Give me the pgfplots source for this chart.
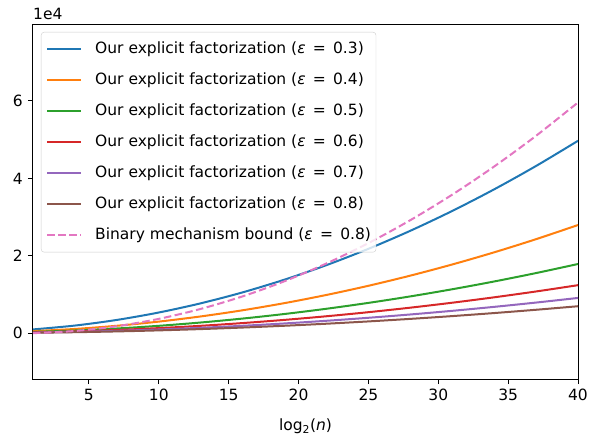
\documentclass[border=0pt]{standalone}
\usepackage{fontspec}
\setmainfont{DejaVu Sans}
\usepackage{pgfplots}
\pgfplotsset{compat=1.18}

\definecolor{c0}{HTML}{1F77B4}
\definecolor{c1}{HTML}{FF7F0E}
\definecolor{c2}{HTML}{2CA02C}
\definecolor{c3}{HTML}{D62728}
\definecolor{c4}{HTML}{9467BD}
\definecolor{c5}{HTML}{8C564B}
\definecolor{c6}{HTML}{E377C2}

\newcommand{\eps}[1]{(\textit{ε}\hspace{0.15em} = \hspace{0.15em}#1)}

\begin{document}
\fontsize{15.5}{18}\selectfont
\begin{tikzpicture}
\begin{axis}[
    scale only axis,
    width=545pt, height=354pt,
    xmin=1, xmax=40,
    ymin=-11800, ymax=79600,
    xtick={5,10,...,40},
    ytick={0,20000,40000,60000},
    yticklabels={0,2,4,6},
    scaled y ticks=false,
    xtick pos=bottom, ytick pos=left,
    tick align=outside,
    major tick length=5pt,
    tick style={black, line width=1pt},
    axis line style={line width=1pt},
    /pgf/number format/assume math mode=true,
    tick label style={font=\fontsize{15.5}{18}\selectfont},
    xlabel={log\textsubscript{2}(\textit{n})},
    xlabel style={at={(axis description cs:0.5,0)}, anchor=base, yshift=-51pt},
    legend cell align=left,
    legend image code/.code={
        \draw[#1] (0pt,0pt) -- (34pt,0pt);
        \path (47pt,0pt);
    },
    legend style={
        at={(axis description cs:0,1)}, anchor=north west,
        xshift=8pt, yshift=-7pt,
        draw=black!20, fill=white, fill opacity=0.8, text opacity=1,
        rounded corners=3pt,
        inner xsep=5pt, inner ysep=9pt,
        row sep=15pt,
        nodes={inner sep=0pt, text height=12pt, text depth=4pt},
        font=\fontsize{15.5}{18}\selectfont,
    },
]
% epsilon = 0.3
\addplot[c0, line width=2pt, smooth] coordinates {
    (1,1000) (4,1998) (7,3453) (10,5366) (13,7738) (16,10567) (19,13856)
    (22,17600) (25,21806) (28,26467) (31,31589) (34,37167) (37,43204) (40,49699)
};
\addlegendentry{Our explicit factorization \eps{0.3}}
% epsilon = 0.4
\addplot[c1, line width=2pt, smooth] coordinates {
    (1,563) (4,1124) (7,1943) (10,3018) (13,4353) (16,5944) (19,7794)
    (22,9900) (25,12266) (28,14888) (31,17769) (34,20906) (37,24303) (40,27956)
};
\addlegendentry{Our explicit factorization \eps{0.4}}
% epsilon = 0.5
\addplot[c2, line width=2pt, smooth] coordinates {
    (1,360) (4,719) (7,1243) (10,1932) (13,2786) (16,3804) (19,4988)
    (22,6336) (25,7850) (28,9528) (31,11372) (34,13380) (37,15554) (40,17892)
};
\addlegendentry{Our explicit factorization \eps{0.5}}
% epsilon = 0.6
\addplot[c3, line width=2pt, smooth] coordinates {
    (1,250) (4,499) (7,863) (10,1341) (13,1934) (16,2642) (19,3464)
    (22,4400) (25,5451) (28,6617) (31,7897) (34,9292) (37,10801) (40,12425)
};
\addlegendentry{Our explicit factorization \eps{0.6}}
% epsilon = 0.7
\addplot[c4, line width=2pt, smooth] coordinates {
    (1,184) (4,367) (7,634) (10,986) (13,1421) (16,1941) (19,2545)
    (22,3233) (25,4005) (28,4861) (31,5802) (34,6827) (37,7936) (40,9128)
};
\addlegendentry{Our explicit factorization \eps{0.7}}
% epsilon = 0.8
\addplot[c5, line width=2pt, smooth] coordinates {
    (1,141) (4,281) (7,486) (10,755) (13,1088) (16,1486) (19,1948)
    (22,2475) (25,3066) (28,3722) (31,4442) (34,5227) (37,6076) (40,6989)
};
\addlegendentry{Our explicit factorization \eps{0.8}}
% binary mechanism
\addplot[c6, line width=2pt, smooth, dash pattern=on 7.5pt off 3.5pt] coordinates {
    (1,37) (4,596) (7,1825) (10,3725) (13,6295) (16,9536) (19,13447)
    (22,18029) (25,23281) (28,29204) (31,35797) (34,43061) (37,50995) (40,59600)
};
\addlegendentry{Binary mechanism bound \eps{0.8}}

\coordinate (sw) at (rel axis cs:0,0);
\coordinate (ne) at (rel axis cs:1,1);
\end{axis}
\node[anchor=base west, inner sep=0pt] at ([yshift=5pt]sw |- ne) {1e4};
\pgfresetboundingbox
\path[use as bounding box] ([shift={(-33pt,-58pt)}]sw) rectangle ([shift={(14pt,25pt)}]ne);
\end{tikzpicture}
\end{document}
